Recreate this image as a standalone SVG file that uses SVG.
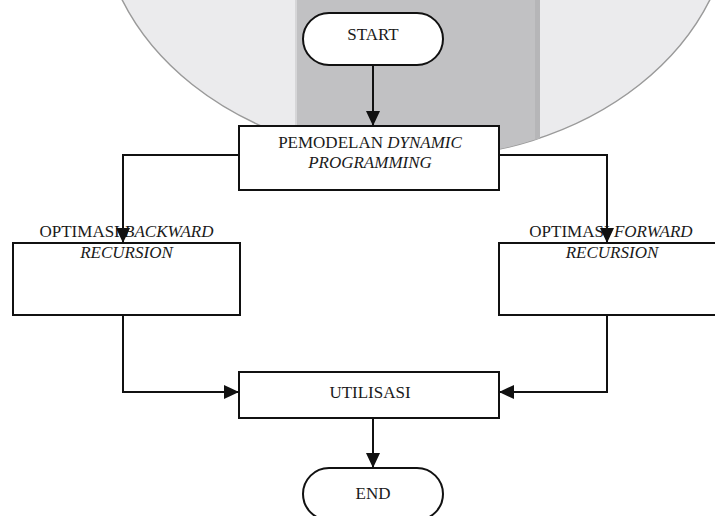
<svg xmlns="http://www.w3.org/2000/svg" width="715" height="516" viewBox="0 0 715 516">
<style>
.box{fill:#fff;stroke:#111;stroke-width:2}
.t{font-family:"Liberation Serif","Times New Roman",serif;font-size:17px;fill:#1a1a1a;text-anchor:middle}
.i{font-style:italic}
.c{fill:none;stroke:#111;stroke-width:2;marker-end:url(#ah)}
</style>
<defs>
<marker id="ah" markerUnits="userSpaceOnUse" markerWidth="15" markerHeight="14" refX="15" refY="7" orient="auto">
<path d="M0,0 L15,7 L0,14 z" fill="#111"/>
</marker>
<clipPath id="cl"><ellipse cx="416" cy="-92" rx="316" ry="250"/></clipPath>
</defs>
<rect width="715" height="516" fill="#fff"/>
<g id="background">
<ellipse cx="416" cy="-92" rx="316" ry="250" fill="#ebebed" stroke="#9a9a9a" stroke-width="1.5"/>
<g clip-path="url(#cl)">
<rect x="295" y="0" width="245" height="200" fill="#c1c1c3"/>
<rect x="295" y="0" width="2" height="200" fill="#d6d6d8"/>
<rect x="535" y="0" width="5" height="200" fill="#b6b6b8"/>
</g>
</g>
<g id="start">
<rect class="box" x="303" y="13" width="140" height="52" rx="26"/>
<text class="t" x="373" y="40">START</text>
</g>
<g id="pemodelan">
<rect class="box" x="239" y="126" width="260" height="64"/>
<text class="t" x="370" y="148">PEMODELAN <tspan class="i">DYNAMIC</tspan></text>
<text class="t i" x="370" y="168">PROGRAMMING</text>
</g>
<g id="backward">
<rect class="box" x="13" y="243" width="227" height="72"/>
<text class="t" x="126.5" y="237">OPTIMASI <tspan class="i">BACKWARD</tspan></text>
<text class="t i" x="126.5" y="258">RECURSION</text>
</g>
<g id="forward">
<rect class="box" x="499" y="243" width="227" height="72"/>
<text class="t" x="611" y="237">OPTIMASI <tspan class="i">FORWARD</tspan></text>
<text class="t i" x="612" y="258">RECURSION</text>
</g>
<g id="utilisasi">
<rect class="box" x="239" y="372" width="260" height="46"/>
<text class="t" x="370" y="398">UTILISASI</text>
</g>
<g id="end">
<rect class="box" x="303" y="468" width="140" height="52" rx="26"/>
<text class="t" x="373" y="499">END</text>
</g>
<g id="connectors">
<path class="c" d="M373,65 V126"/>
<path class="c" d="M239,155 H123 V243"/>
<path class="c" d="M499,155 H607 V243"/>
<path class="c" d="M123,315 V392 H239"/>
<path class="c" d="M607,315 V392 H499"/>
<path class="c" d="M373,418 V468"/>
</g>
</svg>
